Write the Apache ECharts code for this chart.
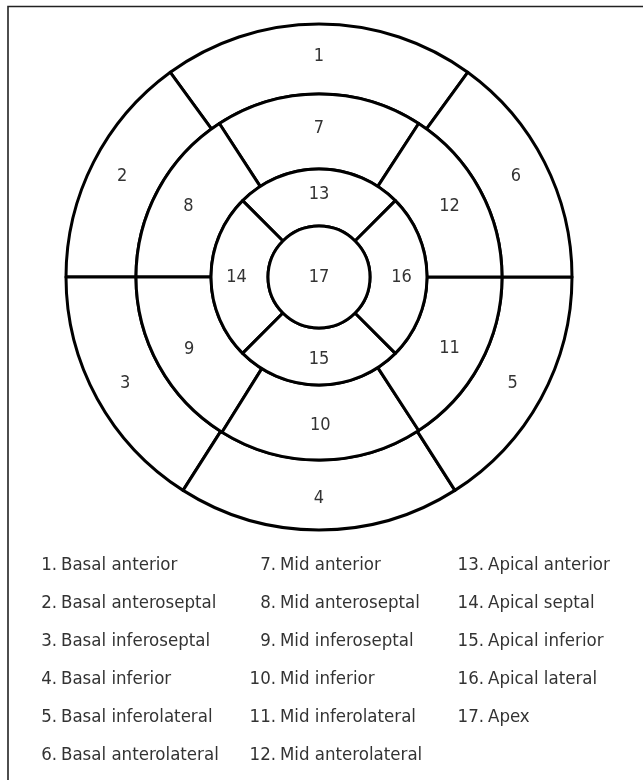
<!DOCTYPE html>
<html>
<head>
<meta charset="utf-8">
<script src="https://cdn.jsdelivr.net/npm/echarts@6/dist/echarts.min.js"></script>
<style>
  html, body { margin: 0; padding: 0; background: #fff; }
  #chart { width: 643px; height: 780px; }
</style>
</head>
<body>
<div id="chart"></div>
<script>
// 17-segment model: numbers per ring, going counterclockwise from the top
const basalSegments = ["1", "2", "3", "4", "5", "6"]
const midSegments = ["7", "8", "9", "10", "11", "12"]
const apicalSegments = ["13", "14", "15", "16"]
const apexSegments = ["17"]

// angular size (degrees) of each segment as drawn in the figure
const basalSpans = [72, 54, 57.5, 65, 57.5, 54]
const midSpans = [66, 57, 58, 65, 57, 57]
const apicalSpans = [90, 90, 90, 90]
const apexSpans = [360]

const segmentNames = [
  "Basal anterior", "Basal anteroseptal", "Basal inferoseptal",
  "Basal inferior", "Basal inferolateral", "Basal anterolateral",
  "Mid anterior", "Mid anteroseptal", "Mid inferoseptal",
  "Mid inferior", "Mid inferolateral", "Mid anterolateral",
  "Apical anterior", "Apical septal", "Apical inferior",
  "Apical lateral", "Apex"
]

const FONT = "'Liberation Sans Narrow', 'DejaVu Sans Condensed', 'Noto Sans', sans-serif"
const CENTER = [319, 277]

function ring(name, labels, spans, r0, r1, startAngle, labelPos) {
  return {
    name: name,
    type: "pie",
    center: CENTER,
    radius: [r0, r1],
    startAngle: startAngle,
    clockwise: false,
    silent: true,
    animation: false,
    avoidLabelOverlap: false,
    itemStyle: {
      color: "#ffffff",
      borderColor: "#000000",
      borderWidth: 3
    },
    label: {
      show: true,
      position: labelPos || "inside",
      formatter: "{b}",
      color: "#333333",
      fontSize: 18,
      fontFamily: FONT
    },
    labelLine: { show: false },
    emphasis: { disabled: true },
    data: labels.map((l, i) => ({ name: l, value: spans[i] }))
  }
}

// legend text below the bullseye
const colNumEnd = [57, 276, 484]
const colNameStart = [61, 280, 488]
const rowTop = 565
const rowGap = 38
const legendTexts = []
segmentNames.forEach((n, i) => {
  const col = Math.floor(i / 6)
  const row = i % 6
  const y = rowTop + row * rowGap
  legendTexts.push({
    type: "text",
    x: colNumEnd[col],
    y: y,
    style: {
      text: `${i + 1}.`,
      textAlign: "right",
      textVerticalAlign: "middle",
      fill: "#333333",
      fontSize: 18.5,
      fontFamily: FONT
    }
  })
  legendTexts.push({
    type: "text",
    x: colNameStart[col],
    y: y,
    style: {
      text: n,
      textAlign: "left",
      textVerticalAlign: "middle",
      fill: "#333333",
      fontSize: 18.5,
      fontFamily: FONT
    }
  })
})

const option = {
  backgroundColor: "#ffffff",
  animation: false,
  graphic: [
    {
      type: "polyline",
      shape: { points: [[8, 780], [8, 6.5], [643, 6.5]] },
      style: { stroke: "#222222", lineWidth: 1.6, fill: null }
    },
    ...legendTexts
  ],
  series: [
    ring("basal", basalSegments, basalSpans, 183, 253, 54),
    ring("mid", midSegments, midSpans, 108, 183, 57),
    ring("apical", apicalSegments, apicalSpans, 51, 108, 45),
    ring("apex", apexSegments, apexSpans, 0, 51, 90, "center")
  ]
}

const chart = echarts.init(document.getElementById("chart"))
chart.setOption(option)
</script>
</body>
</html>
